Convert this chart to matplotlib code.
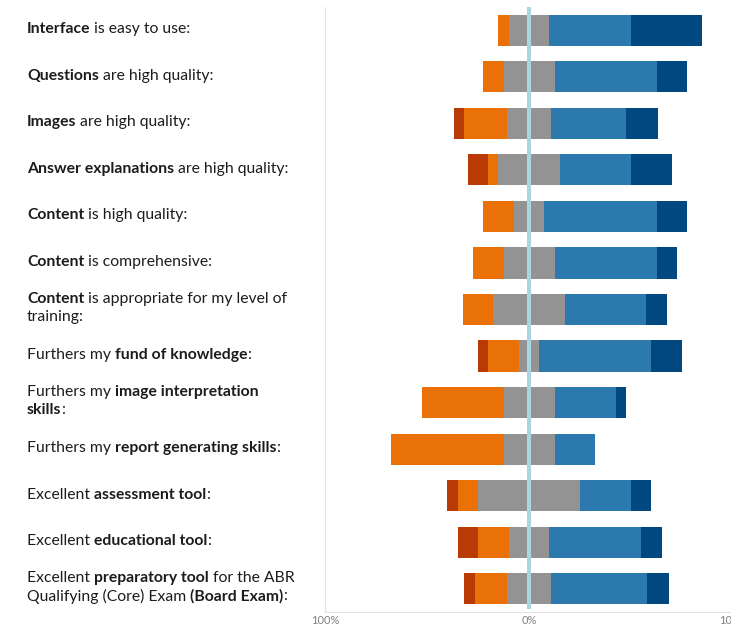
import matplotlib
matplotlib.use("Agg")
import matplotlib.pyplot as plt
import numpy as np

# ---- data ----
labels = [
    [[("Interface", True), (" is easy to use:", False)]],
    [[("Questions", True), (" are high quality:", False)]],
    [[("Images", True), (" are high quality:", False)]],
    [[("Answer explanations", True), (" are high quality:", False)]],
    [[("Content", True), (" is high quality:", False)]],
    [[("Content", True), (" is comprehensive:", False)]],
    [[("Content", True), (" is appropriate for my level of", False)],
     [("training:", False)]],
    [[("Furthers my ", False), ("fund of knowledge", True), (":", False)]],
    [[("Furthers my ", False), ("image interpretation", True)],
     [("skills", True), (":", False)]],
    [[("Furthers my ", False), ("report generating skills", True), (":", False)]],
    [[("Excellent ", False), ("assessment tool", True), (":", False)]],
    [[("Excellent ", False), ("educational tool", True), (":", False)]],
    [[("Excellent ", False), ("preparatory tool", True), (" for the ABR", False)],
     [("Qualifying (Core) Exam ", False), ("(Board Exam)", True), (":", False)]],
]
strongly_disagree = [0, 0, 5.3, 10, 0, 0, 0, 5, 0, 0, 5, 10, 5.3]
disagree          = [5, 10, 21.1, 5, 15, 15, 15, 15, 40, 55, 10, 15, 15.8]
neutral           = [20, 25, 21.1, 30, 15, 25, 35, 10, 25, 25, 50, 20, 21.1]
agree             = [40, 50, 36.8, 35, 55, 50, 40, 55, 30, 20, 25, 45, 47.4]
strongly_agree    = [35, 15, 15.8, 20, 15, 10, 10, 15, 5, 0, 10, 10, 10.5]
tick_values = [-100, 0, 100]
tick_labels = ["100%", "0%", "100%"]

colors = ["#b93a04", "#ea7107", "#939393", "#2c79ae", "#00487f"]

W, H = 731, 627
fig = plt.figure(figsize=(W / 100, H / 100), dpi=100)
ax = fig.add_axes([325 / W, 15 / H, 408 / W, 605 / H])

n = len(labels)
y = np.arange(n)
sd = np.array(strongly_disagree, float)
d = np.array(disagree, float)
ne = np.array(neutral, float)
a = np.array(agree, float)
sa = np.array(strongly_agree, float)

left = -(sd + d + ne / 2)
bar_h = 0.67
for vals, c in zip([sd, d, ne, a, sa], colors):
    ax.barh(y, vals, left=left, height=bar_h, color=c, edgecolor="none", zorder=2)
    left = left + vals

ax.axvline(0, ymin=0.008, ymax=1.0, color="#a9d6e0", lw=2.9, zorder=3)

ax.set_xlim(-100, 100)
ax.set_ylim(n - 0.5, -0.5)
ax.set_yticks([])
ax.set_xticks(tick_values)
ax.set_xticklabels(tick_labels, color="#808080", fontsize=8.0, family="Lato")
ax.tick_params(axis="x", length=0, pad=2)
for s in ["top", "right"]:
    ax.spines[s].set_visible(False)
for s in ["left", "bottom"]:
    ax.spines[s].set_color("#e3e3e3")
    ax.spines[s].set_linewidth(0.8)

# ---- labels with mixed bold ----
fs = 11.3
fam = "Lato"
tc = "#1c1c1c"
line_gap = 18.5
for i, lines in enumerate(labels):
    nl = len(lines)
    first_anchor = None
    for li, segs in enumerate(lines):
        prev = None
        for si, (txt, bold) in enumerate(segs):
            kw = dict(fontsize=fs, family=fam, color=tc,
                      fontweight="bold" if bold else "normal",
                      va="center", ha="left", annotation_clip=False)
            if prev is None:
                if li == 0:
                    off = -1 if nl == 1 else -1.5 - line_gap / 2
                    t = ax.annotate(txt, xy=(27 / W, i), xycoords=("figure fraction", "data"),
                                    xytext=(0, -off), textcoords="offset pixels", **kw)
                    first_anchor = t
                else:
                    t = ax.annotate(txt, xy=(0, 0.5), xycoords=first_anchor,
                                    xytext=(0, -line_gap * li), textcoords="offset pixels", **kw)
            else:
                t = ax.annotate(txt, xy=(1, 0.5), xycoords=prev, **kw)
            prev = t

fig.savefig("out.png", dpi=100)
